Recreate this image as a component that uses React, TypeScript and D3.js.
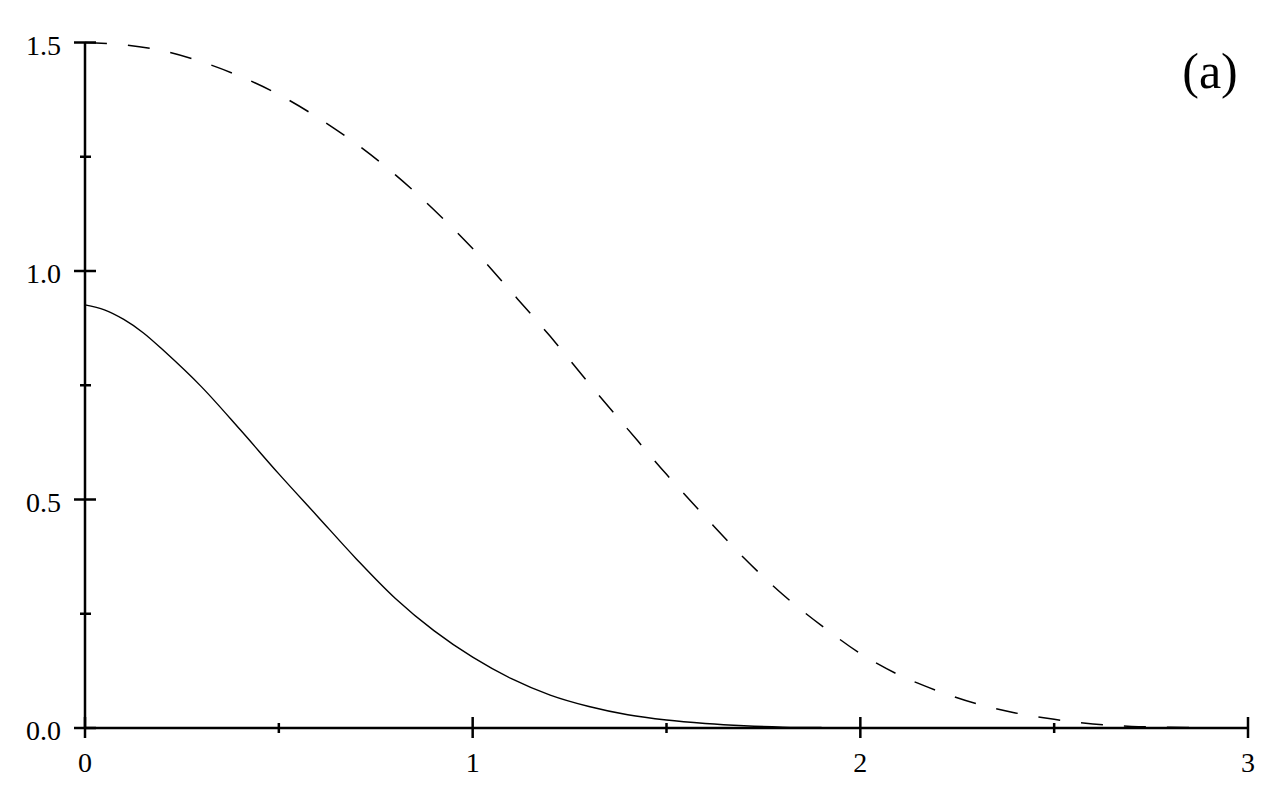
import React, { useEffect, useRef } from 'react';
import * as d3 from 'd3';

// values
const xSolid = [0, 0.05, 0.1, 0.15, 0.2, 0.3, 0.4, 0.5, 0.6, 0.7, 0.8, 0.9, 1.0, 1.1, 1.2, 1.3, 1.4, 1.5, 1.6, 1.7, 1.8, 1.9];
const ySolid = [0.926, 0.915, 0.894, 0.865, 0.828, 0.747, 0.653, 0.556, 0.463, 0.37, 0.284, 0.213, 0.155, 0.108, 0.072, 0.047, 0.029, 0.0175, 0.01, 0.005, 0.002, 0.001];

const xDashed = [0, 0.1, 0.2, 0.3, 0.4, 0.5, 0.6, 0.7, 0.8, 0.9, 1.0, 1.1, 1.2, 1.3, 1.4, 1.5, 1.6, 1.7, 1.8, 1.9, 2.0, 2.1, 2.2, 2.3, 2.4, 2.5, 2.6, 2.7, 2.8, 2.9];
const yDashed = [1.5, 1.495, 1.482, 1.458, 1.426, 1.386, 1.336, 1.278, 1.211, 1.134, 1.049, 0.954, 0.857, 0.754, 0.654, 0.555, 0.462, 0.372, 0.292, 0.224, 0.163, 0.116, 0.081, 0.053, 0.033, 0.019, 0.009, 0.0035, 0.0015, 0.0005];

const xMajor = [0, 1, 2, 3];
const xMinor = [0.5, 1.5, 2.5];
const yMajor = [0, 0.5, 1.0, 1.5];
const yMinor = [0.25, 0.75, 1.25];
const panelLabel = '(a)';

const App = () => {
  const svgRef = useRef<SVGSVGElement | null>(null);

  useEffect(() => {
    const svg = d3.select(svgRef.current);
    svg.selectAll('*').remove();

    const x = d3.scaleLinear().domain([0, 3]).range([85, 1248]);
    const y = d3.scaleLinear().domain([0, 1.5]).range([728, 42.5]);
    const font = '"Liberation Serif", "Times New Roman", serif';

    const axes = svg.append('g').attr('stroke', '#000').attr('stroke-width', 2.5);
    axes.append('line').attr('x1', x(0)).attr('x2', x(3)).attr('y1', y(0)).attr('y2', y(0));
    axes.append('line').attr('x1', x(0)).attr('x2', x(0)).attr('y1', y(0)).attr('y2', y(1.5));

    axes.selectAll('.xmaj').data(xMajor).enter().append('line')
      .attr('x1', (d) => x(d)).attr('x2', (d) => x(d))
      .attr('y1', y(0) - 11).attr('y2', y(0) + 10);
    axes.selectAll('.xmin').data(xMinor).enter().append('line')
      .attr('x1', (d) => x(d)).attr('x2', (d) => x(d))
      .attr('y1', y(0) - 5).attr('y2', y(0) + 5);
    axes.selectAll('.ymaj').data(yMajor).enter().append('line')
      .attr('x1', x(0) - 11).attr('x2', x(0) + 11)
      .attr('y1', (d) => y(d)).attr('y2', (d) => y(d));
    axes.selectAll('.ymin').data(yMinor).enter().append('line')
      .attr('x1', x(0) - 5).attr('x2', x(0) + 6)
      .attr('y1', (d) => y(d)).attr('y2', (d) => y(d));

    svg.append('g').selectAll('text').data(xMajor).enter().append('text')
      .attr('x', (d) => x(d)).attr('y', y(0) + 44)
      .attr('text-anchor', 'middle')
      .attr('font-family', font).attr('font-size', 28)
      .text((d) => d3.format('d')(d));

    svg.append('g').selectAll('text').data(yMajor).enter().append('text')
      .attr('x', 61).attr('y', (d) => y(d) + 12)
      .attr('text-anchor', 'end')
      .attr('font-family', font).attr('font-size', 28)
      .text((d) => d3.format('.1f')(d));

    const line = d3.line<[number, number]>()
      .x((d) => x(d[0]))
      .y((d) => y(d[1]))
      .curve(d3.curveCatmullRom.alpha(0.5));

    svg.append('path')
      .attr('d', line(xSolid.map((v, i) => [v, ySolid[i]])))
      .attr('fill', 'none').attr('stroke', '#000').attr('stroke-width', 1.4);

    svg.append('path')
      .attr('d', line(xDashed.map((v, i) => [v, yDashed[i]])))
      .attr('fill', 'none').attr('stroke', '#000').attr('stroke-width', 1.5)
      .attr('stroke-dasharray', '22,21');

    svg.append('text')
      .attr('x', 1210).attr('y', 88)
      .attr('text-anchor', 'middle')
      .attr('font-family', font).attr('font-size', 50)
      .text(panelLabel);
  }, []);

  return (
    <svg
      ref={svgRef}
      width={1280}
      height={800}
      style={{ position: 'absolute', left: 0, top: 0, background: '#fff' }}
    />
  );
};

export default App;
